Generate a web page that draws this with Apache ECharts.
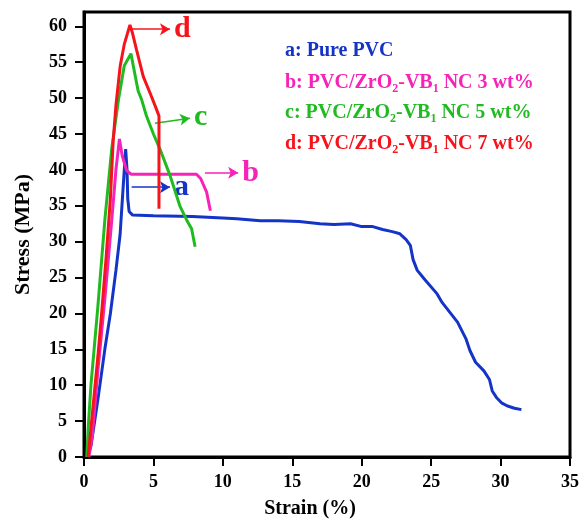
<!DOCTYPE html>
<html>
<head>
<meta charset="utf-8">
<script src="https://cdn.jsdelivr.net/npm/echarts@6/dist/echarts.min.js"></script>
<style>
  html, body { margin: 0; padding: 0; background: #fff; }
  #single { width: 582px; height: 524px; }
</style>
</head>
<body>
<div id="single"></div>
<script>
// a: Pure PVC
var strainA = [0.25, 0.5, 1.0, 1.5, 1.9, 2.3, 2.6, 2.8, 3.0, 3.1, 3.15, 3.25, 3.5, 5, 7.8, 10, 11, 12.7, 14, 15.5, 17, 18, 19.2, 20, 20.8, 21.5, 22.2, 22.75, 23.2, 23.5, 23.7, 24, 24.6, 25.4, 25.8, 26.9, 27.5, 27.8, 28.2, 28.8, 29.2, 29.4, 29.7, 30.1, 30.5, 31, 31.5];
var stressA = [0, 1.5, 8, 15, 20, 26, 31, 37, 42.9, 40, 36, 34.2, 33.7, 33.6, 33.5, 33.3, 33.2, 32.9, 32.9, 32.8, 32.5, 32.4, 32.5, 32.1, 32.1, 31.7, 31.4, 31.1, 30.3, 29.5, 27.5, 26, 24.6, 22.8, 21.5, 18.8, 16.5, 14.8, 13.2, 12, 10.8, 9.2, 8.3, 7.5, 7.1, 6.8, 6.6];
// b: 3 wt%
var strainB = [0.35, 0.6, 1.0, 1.5, 2.0, 2.3, 2.55, 2.75, 3.07, 3.4, 8.1, 8.4, 8.83, 9.1];
var stressB = [0, 3, 12, 22, 33, 40, 44.3, 42, 39.9, 39.4, 39.4, 38.8, 36.9, 34.3];
// c: 5 wt%
var strainC = [0.2, 0.3, 0.5, 1.0, 1.5, 2.0, 2.5, 2.9, 3.38, 3.6, 3.9, 4.15, 4.5, 5.0, 5.47, 6.2, 6.9, 7.4, 7.75, 8.0];
var stressC = [0, 4, 10, 21, 33, 43, 50, 54.5, 56.2, 54, 51, 49.8, 47.5, 45, 42.9, 39.2, 35, 33, 31.8, 29.3];
// d: 7 wt%
var strainD = [0.3, 0.45, 1.0, 1.27, 1.6, 1.9, 2.1, 2.3, 2.6, 2.9, 3.31, 3.5, 3.79, 4.27, 4.8, 5.23, 5.4, 5.4];
var stressD = [0, 3, 14, 20, 28, 36, 44, 49, 54.4, 57.5, 60.2, 59, 56.7, 53, 50.5, 48.4, 47.5, 34.6];

var xTicks = [0, 5, 10, 15, 20, 25, 30, 35];
var yTicks = [0, 5, 10, 15, 20, 25, 30, 35, 40, 45, 50, 55, 60];

var letters = ['a', 'b', 'c', 'd'];
// arrow start / end in data units
var arrows = [
  [[3.43, 37.6], [6.19, 37.6]],
  [[8.71, 39.6], [11.1, 39.6]],
  [[5.11, 46.5], [7.63, 47.2]],
  [[3.43, 59.6], [6.19, 59.6]]
];
var legendLines = [
  ['a: Pure PVC'],
  ['b: PVC/ZrO', '2', '-VB', '1', ' NC 3 wt%'],
  ['c: PVC/ZrO', '2', '-VB', '1', ' NC 5 wt%'],
  ['d: PVC/ZrO', '2', '-VB', '1', ' NC 7 wt%']
];

var colors = ['#1434c8', '#f523b8', '#20bb20', '#f5141c'];
var font = 'Liberation Serif, Times New Roman, serif';

function zip(xs, ys) {
  return xs.map(function (x, i) { return [x, ys[i]]; });
}

function makeSeries(idx, xs, ys) {
  return {
    type: 'line',
    data: zip(xs, ys),
    showSymbol: false,
    symbol: 'none',
    lineStyle: { color: colors[idx], width: 3 },
    z: 3 + idx,
    markLine: {
      silent: true,
      symbol: ['none', 'arrow'],
      symbolSize: [9, 10],
      lineStyle: { color: colors[idx], width: 1.5, type: 'solid' },
      label: {
        show: true,
        position: 'end',
        formatter: letters[idx],
        color: colors[idx],
        fontFamily: font,
        fontWeight: 'bold',
        fontSize: 30,
        distance: 4
      },
      data: [[{ coord: arrows[idx][0] }, { coord: arrows[idx][1] }]]
    }
  };
}

var legendY = [49, 81, 111, 142];
var graphics = legendLines.map(function (parts, i) {
  var txt = parts.map(function (p, k) {
    return (k % 2 === 1 ? '{s|' : '{t|') + p + '}';
  }).join('');
  return {
    type: 'text',
    left: 285,
    top: legendY[i] - 8,
    style: {
      text: txt,
      fill: colors[i],
      rich: {
        t: { fontFamily: font, fontWeight: 'bold', fontSize: 20, lineHeight: 24, color: colors[i] },
        s: { fontFamily: font, fontWeight: 'bold', fontSize: 12, lineHeight: 10, verticalAlign: 'bottom', color: colors[i] }
      }
    }
  };
});

var chart = echarts.init(document.getElementById('single'));
chart.setOption({
  animation: false,
  grid: {
    left: 84, right: 12, top: 12, bottom: 64,
    show: true, borderColor: '#000', borderWidth: 3, backgroundColor: 'transparent'
  },
  xAxis: {
    type: 'value',
    min: 0, max: 35, interval: 5,
    name: 'Strain (%)',
    nameLocation: 'middle',
    nameGap: 42,
    nameTextStyle: { fontFamily: font, fontWeight: 'bold', fontSize: 20, color: '#000', padding: [0, 34, 0, 0] },
    axisLine: { lineStyle: { color: '#000', width: 3 } },
    axisTick: { length: 9, lineStyle: { color: '#000', width: 2 }, customValues: xTicks },
    axisLabel: { fontFamily: font, fontWeight: 'bold', fontSize: 18, color: '#000', margin: 16, customValues: xTicks },
    splitLine: { show: false }
  },
  yAxis: {
    type: 'value',
    min: 0, max: 62, interval: 5,
    name: 'Stress (MPa)',
    nameLocation: 'middle',
    nameGap: 50,
    nameTextStyle: { fontFamily: font, fontWeight: 'bold', fontSize: 22, color: '#000' },
    axisLine: { lineStyle: { color: '#000', width: 3 } },
    axisTick: { length: 9, lineStyle: { color: '#000', width: 2 }, customValues: yTicks },
    axisLabel: { fontFamily: font, fontWeight: 'bold', fontSize: 18, color: '#000', margin: 17, customValues: yTicks },
    splitLine: { show: false }
  },
  series: [
    makeSeries(0, strainA, stressA),
    makeSeries(1, strainB, stressB),
    makeSeries(2, strainC, stressC),
    makeSeries(3, strainD, stressD)
  ],
  graphic: graphics
});
</script>
</body>
</html>
